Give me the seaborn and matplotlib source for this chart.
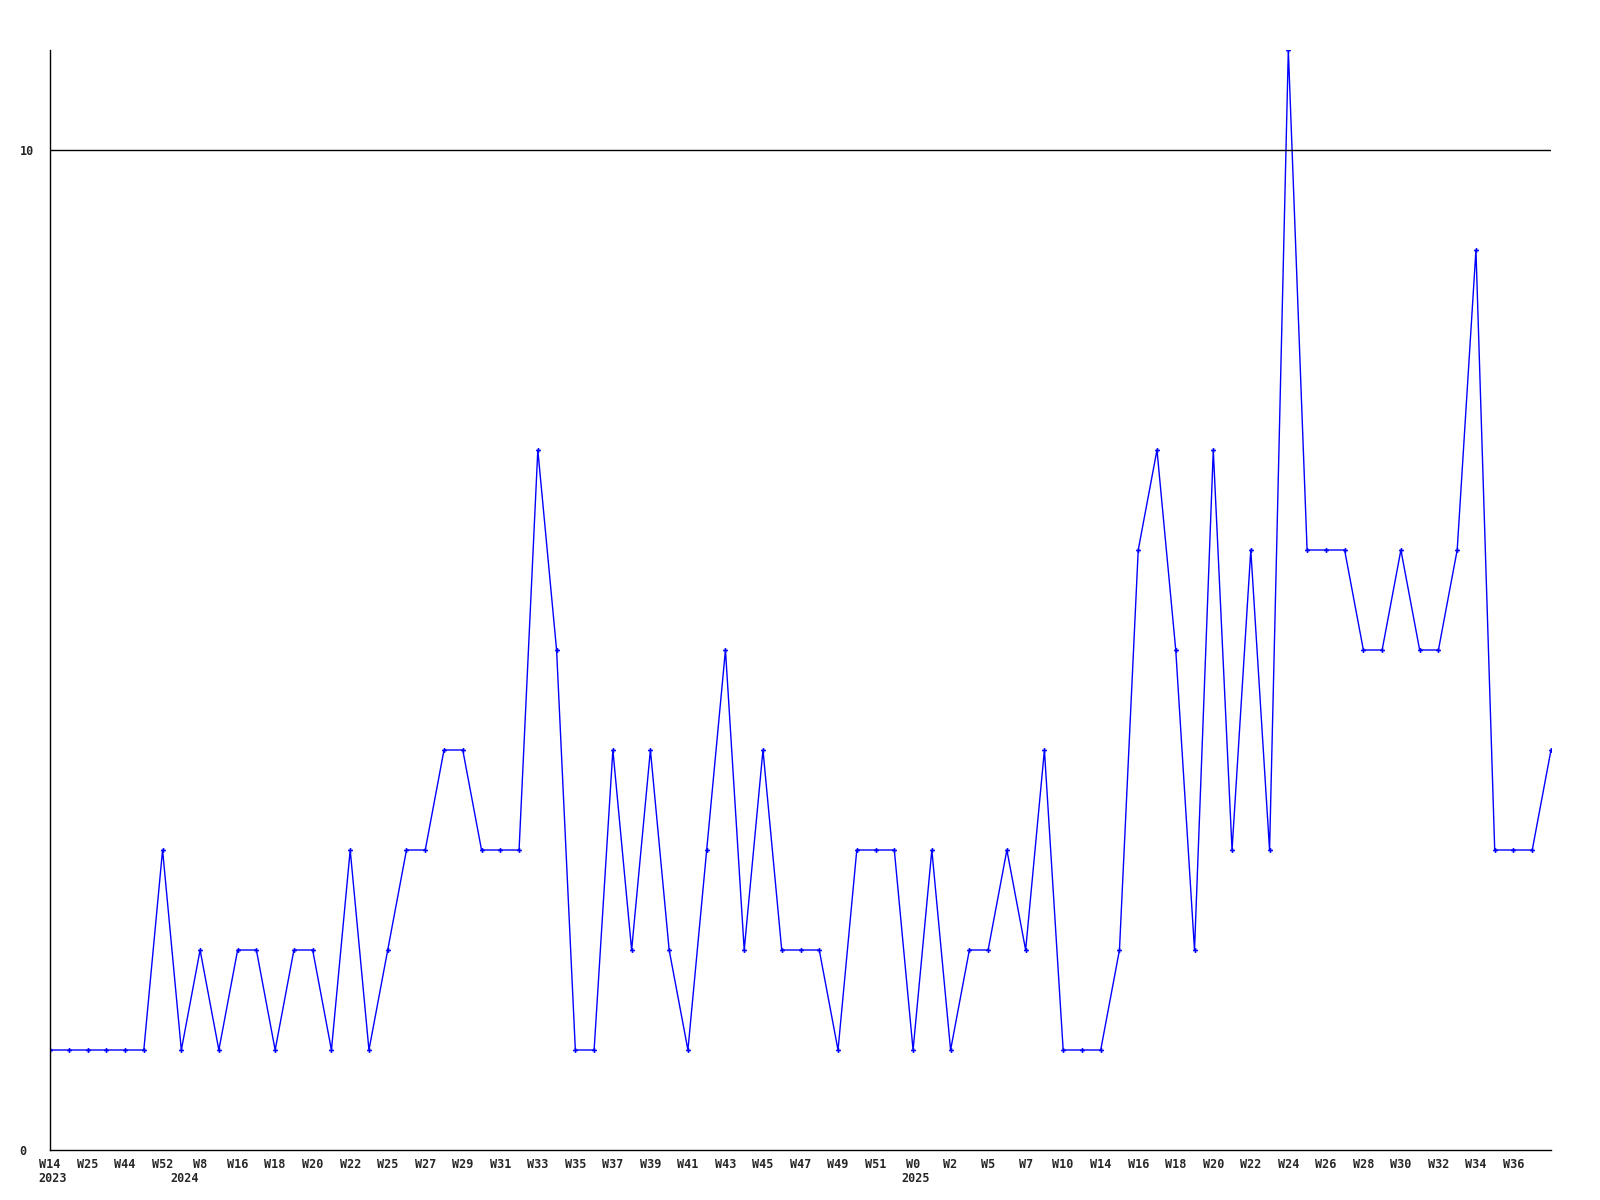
import pandas as pd
import matplotlib
matplotlib.use("Agg")
import matplotlib.pyplot as plt
import seaborn as sns

# =====================================
# DATA
# =====================================

counts = [
    1, 1, 1, 1, 1, 1, 3, 1, 2, 1,
    2, 2, 1, 2, 2, 1, 3, 1, 2, 3,
    3, 4, 4, 3, 3, 3, 7, 5, 1, 1,
    4, 2, 4, 2, 1, 3, 5, 2, 4, 2,
    2, 2, 1, 3, 3, 3, 1, 3, 1, 2,
    2, 3, 2, 4, 1, 1, 1, 2, 6, 7,
    5, 2, 7, 3, 6, 3, 11, 6, 6, 6,
    5, 5, 6, 5, 5, 6, 9, 3, 3, 3,
    4,
]

week_labels = [
    "W14", "W25", "W44", "W52", "W8", "W16", "W18", "W20", "W22", "W25",
    "W27", "W29", "W31", "W33", "W35", "W37", "W39", "W41", "W43", "W45",
    "W47", "W49", "W51", "W0", "W2", "W5", "W7", "W10", "W14", "W16",
    "W18", "W20", "W22", "W24", "W26", "W28", "W30", "W32", "W34", "W36",
]

# year label -> index of the point it sits under
year_pos = [0, 7, 46]
year_text = ["2023", "2024", "2025"]

y_ticks = [0, 10]

# =====================================
# BUILD TICK LABELS
# =====================================

df = pd.DataFrame({"idx": range(len(counts)), "count": counts})

tick_pos = list(range(0, len(counts), 2))[:len(week_labels)]

# =====================================
# PLOT
# =====================================

sns.set_style("white")
plt.rcParams["font.family"] = ["DejaVu Sans Mono"]

fig = plt.figure(figsize=(16, 12), dpi=100)
ax = fig.add_axes([50 / 1600, 50 / 1200, 1501 / 1600, 1100 / 1200])

sns.lineplot(
    data=df,
    x="idx",
    y="count",
    color="#0000ff",
    linewidth=1.0,
    marker="P",
    markersize=3.5,
    markeredgewidth=0,
    ax=ax
)

ax.axhline(10, color="black", linewidth=1.0, zorder=3)

ax.set_xlim(0, len(counts) - 1)
ax.set_ylim(0, 11)

ax.set_xticks(tick_pos)
ax.set_xticklabels(week_labels, fontsize=8.5, fontweight="bold")
ax.set_yticks(y_ticks)
ax.set_yticklabels([str(v) for v in y_ticks], fontsize=8.5, fontweight="bold",
                   ha="left")

ax.tick_params(axis="x", length=0, pad=5.5)
ax.tick_params(axis="y", length=0, pad=22)

# year labels on a second row under the week labels
for pos, yr in zip(year_pos, year_text):
    ax.annotate(
        yr,
        xy=(pos + 0.15, 0),
        xycoords=("data", "axes fraction"),
        xytext=(0, -15.5),
        textcoords="offset points",
        ha="center",
        va="top",
        fontsize=8.5,
        fontweight="bold"
    )

ax.set_xlabel("")
ax.set_ylabel("")

for side in ["top", "right"]:
    ax.spines[side].set_visible(False)
for side in ["left", "bottom"]:
    ax.spines[side].set_color("black")
    ax.spines[side].set_linewidth(1.0)

fig.savefig("out.png", dpi=100)
